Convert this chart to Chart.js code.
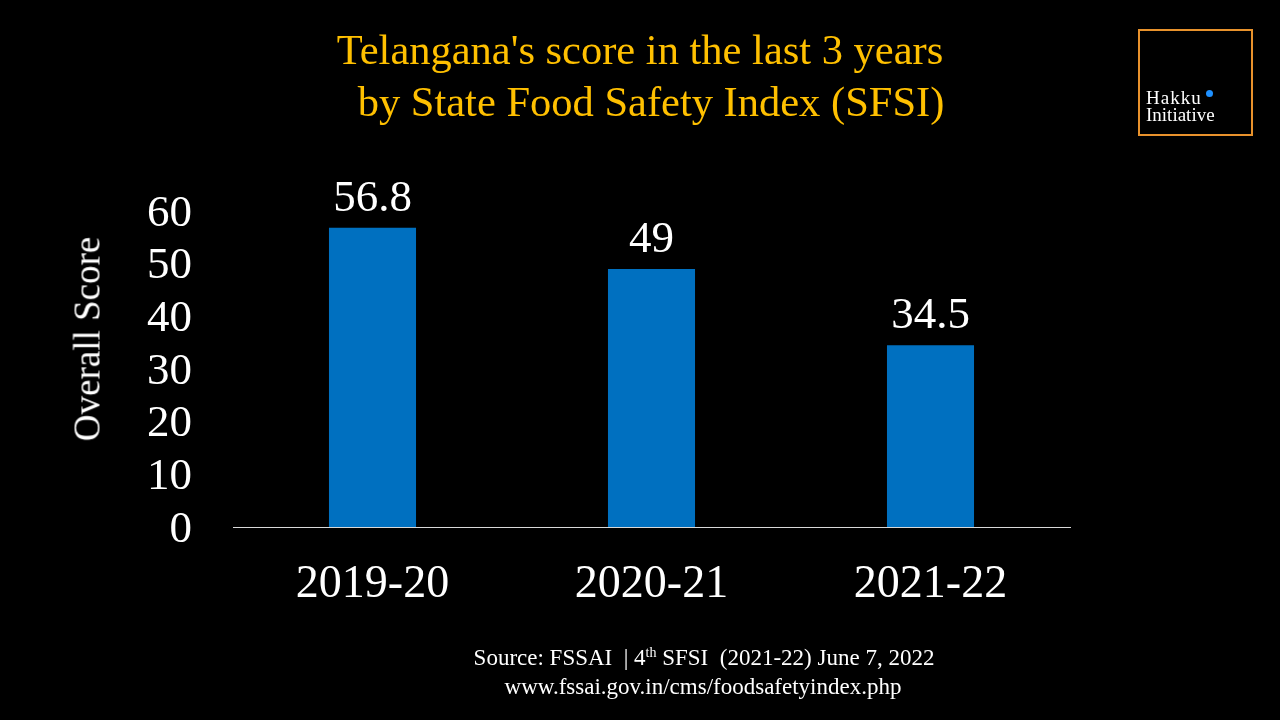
<!DOCTYPE html>
<html>
<head>
<meta charset="utf-8">
<script src="https://cdn.jsdelivr.net/npm/chart.js@4"></script>
<style>
  html, body { margin: 0; padding: 0; background: #000; }
  #wrap { position: relative; width: 1280px; height: 720px; overflow: hidden; }
  canvas { position: absolute; left: 0; top: 0; }
  .t { position: absolute; font-family: "Liberation Serif", "Times New Roman", serif; white-space: nowrap; }
  .title { color: #FFC000; font-size: 42.5px; line-height: 1; transform: translateX(-50%); }
  .src { color: #fff; font-size: 23px; line-height: 1; transform: translateX(-50%); }
  .src sup { font-size: 14px; vertical-align: 8px; line-height: 0; }
  .ytitle { color: #fff; font-size: 37px; line-height: 1; left: 87px; top: 339px; transform: translate(-50%, -50%) rotate(-90deg); }
  #logo { position: absolute; left: 1138px; top: 29px; width: 111px; height: 103px; border: 2.5px solid #E8922C; }
  #logo .l { position: absolute; left: 6px; color: #fff; font-family: "Liberation Serif", serif; font-size: 19px; line-height: 1; }
  #logo .hk { letter-spacing: 1px; }
  #logo .dot { position: absolute; width: 7px; height: 7px; border-radius: 50%; background: #1E90FF; left: 66px; top: 59px; }
</style>
</head>
<body>
<div id="wrap">
  <canvas id="scoreChart" width="1280" height="720"></canvas>
  <div class="t title" style="left:640px; top:29px;">Telangana's score in the last 3 years</div>
  <div class="t title" style="left:651px; top:81px;">by State Food Safety Index (SFSI)</div>
  <div class="t ytitle">Overall Score</div>
  <div class="t src" style="left:704px; top:646px;">Source: FSSAI&nbsp;&nbsp;| 4<sup>th</sup> SFSI&nbsp; (2021-22) June 7, 2022</div>
  <div class="t src" style="left:703px; top:675px;">www.fssai.gov.in/cms/foodsafetyindex.php</div>
  <div id="logo">
    <div class="l hk" style="top:57px;">Hakku</div>
    <div class="dot"></div>
    <div class="l" style="top:74px;">Initiative</div>
  </div>
</div>
<script>
const years = ["2019-20", "2020-21", "2021-22"];
const scores = [56.8, 49, 34.5];
const scoreLabels = ["56.8", "49", "34.5"];

const serif = "'Liberation Serif', 'Times New Roman', serif";

// value labels above each bar
const barLabels = {
  id: "barLabels",
  afterDatasetsDraw(chart) {
    const ctx = chart.ctx;
    const meta = chart.getDatasetMeta(0);
    ctx.save();
    ctx.fillStyle = "#fff";
    ctx.font = "45px " + serif;
    ctx.textAlign = "center";
    ctx.textBaseline = "alphabetic";
    meta.data.forEach((bar, i) => {
      ctx.fillText(scoreLabels[i], bar.x, bar.y - 17);
    });
    ctx.restore();
  },
};

const ctx = document.getElementById("scoreChart").getContext("2d");

const scoreChart = new Chart(ctx, {
  type: "bar",
  data: {
    labels: years,
    datasets: [
      {
        label: "Overall Score",
        data: scores,
        backgroundColor: "#0070C0",
        borderWidth: 0,
        barPercentage: 0.312,
        categoryPercentage: 1,
      },
    ],
  },
  options: {
    responsive: false,
    animation: false,
    layout: {
      padding: { left: 60, right: 210, top: 211, bottom: 0 },
    },
    plugins: {
      legend: { display: false },
      tooltip: { enabled: false },
    },
    scales: {
      x: {
        grid: { display: false, drawTicks: false },
        border: { display: true, color: "#d9d9d9", width: 1 },
        ticks: { color: "#fff", font: { family: serif, size: 46 }, padding: 30 },
        afterFit(scale) { scale.height = 193; },
      },
      y: {
        min: 0,
        max: 60,
        grid: { display: false, drawTicks: false },
        border: { display: false },
        ticks: {
          stepSize: 10,
          autoSkip: false,
          color: "#fff",
          font: { family: serif, size: 45, lineHeight: 1 },
          padding: 41,
          labelOffset: 3,
        },
        afterFit(scale) { scale.width = 173; },
      },
    },
  },
  plugins: [barLabels],
});
</script>
</body>
</html>
